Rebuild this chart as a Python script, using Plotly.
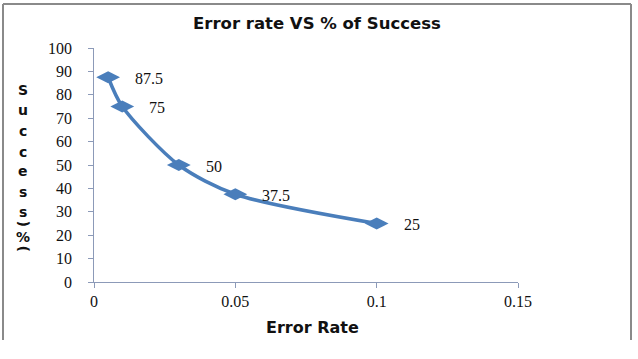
import plotly.graph_objects as go

error_rate = [0.005, 0.01, 0.03, 0.05, 0.1]
success = [87.5, 75, 50, 37.5, 25]
labels = ["87.5", "75", "50", "37.5", "25"]

x_ticks = [0, 0.05, 0.1, 0.15]
x_tick_text = ["0", "0.05", "0.1", "0.15"]
y_ticks = [0, 10, 20, 30, 40, 50, 60, 70, 80, 90, 100]

blue = "#4a7ebb"
serif = "Liberation Serif"
sans = "DejaVu Sans"

# pixel -> paper helpers; plot area spans x 94..518, y 48..282
def px_x(p):
    return (p - 94) / 424.0
def px_y(p):
    return (282 - p) / 234.0

fig = go.Figure()
fig.add_trace(go.Scatter(
    x=error_rate, y=success, mode="lines+markers",
    line=dict(color=blue, width=3.5, shape="spline", smoothing=0.8),
    marker=dict(symbol="diamond-wide", size=17, color=blue),
    showlegend=False, cliponaxis=False, hoverinfo="skip",
))

for xv, yv, t in zip(error_rate, success, labels):
    fig.add_annotation(x=xv, y=yv, text=t, showarrow=False, xanchor="left",
                       xshift=25, yshift=-1, font=dict(family=serif, size=16, color="#111"))

# y tick labels, placed with the y axis scale but further from the axis line
for v in y_ticks:
    fig.add_annotation(xref="paper", yref="y", x=px_x(74), y=v, text=str(v), showarrow=False,
                       xanchor="right", yanchor="middle",
                       font=dict(family=serif, size=16, color="#111"))

# Title, axis titles
fig.add_annotation(xref="paper", yref="paper", x=px_x(317), y=px_y(24), text="<b>Error rate VS % of Success</b>",
                   showarrow=False, font=dict(family=sans, size=16.5, color="#111"), yanchor="middle")
fig.add_annotation(xref="paper", yref="paper", x=px_x(312), y=px_y(327), text="<b>Error Rate</b>",
                   showarrow=False, font=dict(family=sans, size=16, color="#111"), yanchor="middle")

ychars = ["S", "u", "c", "c", "e", "s", "s", "(", "%", ")"]
ypos = [90, 110, 131, 152, 171, 192, 212, 224, 237, 249]
for ch, py in zip(ychars, ypos):
    ang = -90 if ch in "()" else 0
    fig.add_annotation(xref="paper", yref="paper", x=px_x(23), y=px_y(py), text="<b>" + ch + "</b>",
                       showarrow=False, textangle=ang, yanchor="middle", xanchor="center",
                       font=dict(family=sans, size=14, color="#111"))

# frame
gray = "#8a8a8a"
for x0, y0, x1, y1 in [(3, 4, 3, 340), (631, 4, 631, 340), (3, 4, 631, 4)]:
    fig.add_shape(type="line", xref="paper", yref="paper",
                  x0=px_x(x0), y0=px_y(y0), x1=px_x(x1), y1=px_y(y1),
                  line=dict(color=gray, width=2))

fig.update_xaxes(range=[0, 0.15], tickvals=x_ticks, ticktext=x_tick_text,
                 showgrid=False, zeroline=False, showline=True, linecolor="#8c9ab8", linewidth=1,
                 ticks="outside", ticklen=5, tickcolor="#8c9ab8",
                 tickfont=dict(family=serif, size=16, color="#111"))
fig.update_yaxes(range=[0, 100], tickvals=y_ticks, showticklabels=False,
                 showgrid=False, zeroline=False, showline=True, linecolor="#8c9ab8", linewidth=1,
                 ticks="outside", ticklen=5, tickcolor="#8c9ab8")

fig.update_layout(width=638, height=359, margin=dict(l=94, r=120, t=48, b=77, autoexpand=False),
                  paper_bgcolor="white", plot_bgcolor="white")
fig.write_html("out.html", config={"displayModeBar": False},
               post_script="document.body.style.margin='0px';")
